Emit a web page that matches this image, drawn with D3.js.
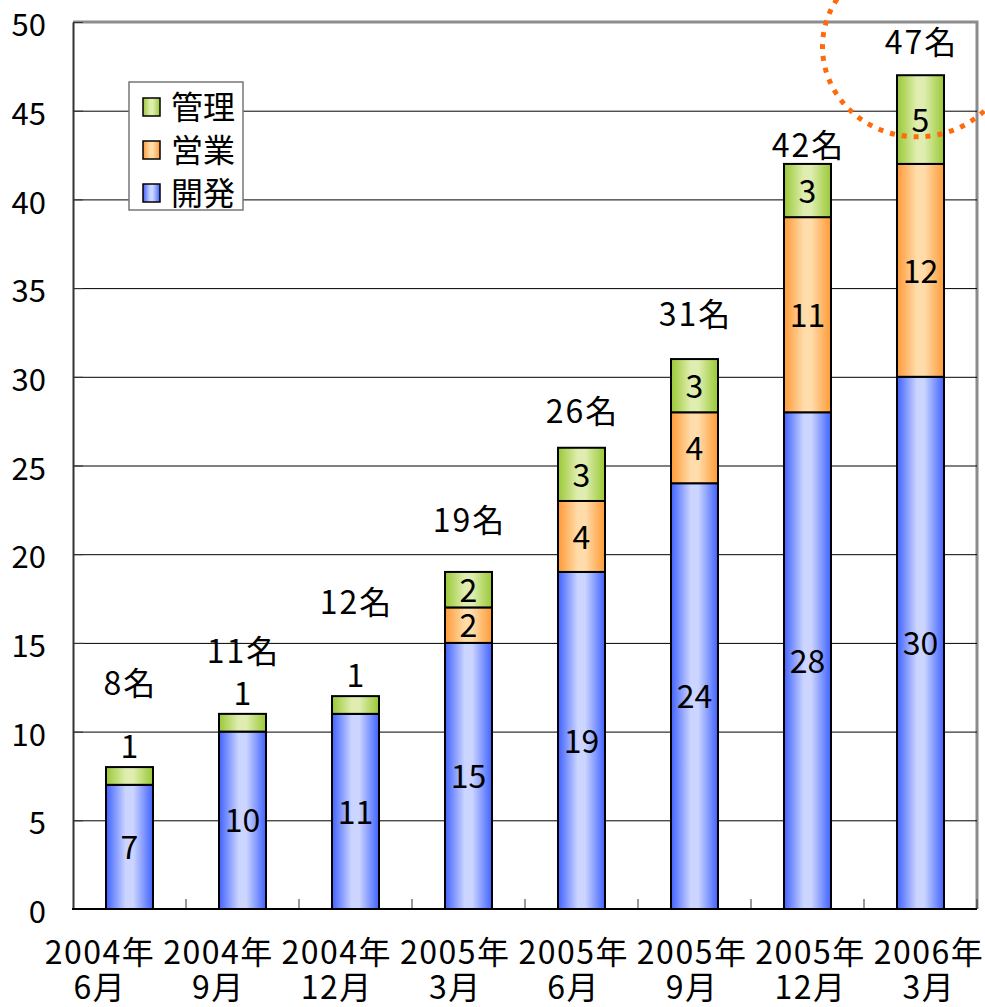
<!DOCTYPE html>
<html>
<head>
<meta charset="utf-8">
<script src="https://cdn.jsdelivr.net/npm/d3@7"></script>
<style>
  html, body { margin: 0; padding: 0; background: #fff; }
  svg { display: block; }
  text { font-family: "Noto Sans CJK JP", "Noto Sans", sans-serif; fill: #000; }
</style>
</head>
<body>
<svg id="chart" width="985" height="1007"></svg>
<script>
// Headcount by period, stacked by department
const periodYears  = ["2004年", "2004年", "2004年", "2005年", "2005年", "2005年", "2005年", "2006年"];
const periodMonths = ["6月", "9月", "12月", "3月", "6月", "9月", "12月", "3月"];
const devCounts    = [7, 10, 11, 15, 19, 24, 28, 30];   // 開発
const salesCounts  = [0, 0, 0, 2, 4, 4, 11, 12];        // 営業
const adminCounts  = [1, 1, 1, 2, 3, 3, 3, 5];          // 管理
const yTicks       = [0, 5, 10, 15, 20, 25, 30, 35, 40, 45, 50];
const seriesNames  = ["開発", "営業", "管理"];

const svg = d3.select("#chart");
const plot = { left: 73, right: 977, top: 22, bottom: 909 };

const periods = periodYears.map((y, i) => y + periodMonths[i]);
const rows = periods.map((p, i) => ({
  period: p, year: periodYears[i], month: periodMonths[i],
  開発: devCounts[i], 営業: salesCounts[i], 管理: adminCounts[i]
}));
const totals = rows.map(r => r.開発 + r.営業 + r.管理);

const x = d3.scaleBand().domain(periods)
  .range([plot.left, plot.right]).paddingInner(0.584).paddingOuter(0.292);
const y = d3.scaleLinear().domain([0, 50]).range([plot.bottom, plot.top]);
// Category labels are spread a little wider than the bars so they don't collide
const xLabel = d3.scalePoint().domain(periods).range([99, 928]);

// Gradient fills: saturated edges, pale centre
const colours = {
  開発: { edge: "#4062ff", mid: "#cbd5ff" },
  営業: { edge: "#ff9a36", mid: "#ffdcaa" },
  管理: { edge: "#99c834", mid: "#dfeeb0" }
};
const defs = svg.append("defs");
seriesNames.forEach((name, i) => {
  const g = defs.append("linearGradient").attr("id", "grad" + i)
    .attr("x1", "0%").attr("x2", "100%").attr("y1", "0%").attr("y2", "0%");
  g.append("stop").attr("offset", "0%").attr("stop-color", colours[name].edge);
  g.append("stop").attr("offset", "42%").attr("stop-color", colours[name].mid);
  g.append("stop").attr("offset", "58%").attr("stop-color", colours[name].mid);
  g.append("stop").attr("offset", "100%").attr("stop-color", colours[name].edge);
});

// Plot frame (grey top/right)
svg.append("path")
  .attr("d", `M${plot.left},${plot.top}H${plot.right}V${plot.bottom}`)
  .attr("fill", "none").attr("stroke", "#8c8c8c").attr("stroke-width", 3);

// Horizontal gridlines
svg.append("g").selectAll("line").data(yTicks.filter(t => t > 0 && t < 50)).join("line")
  .attr("x1", plot.left).attr("x2", plot.right)
  .attr("y1", d => y(d) + 0.5).attr("y2", d => y(d) + 0.5)
  .attr("stroke", "#000").attr("stroke-width", 1);

// Y axis with inward ticks
const yAxis = svg.append("g").attr("transform", `translate(${plot.left},0)`)
  .call(d3.axisLeft(y).tickValues(yTicks).tickSizeInner(-10).tickSizeOuter(0).tickPadding(27));
yAxis.select(".domain").attr("stroke", "#333").attr("stroke-width", 2);
yAxis.selectAll(".tick line").attr("stroke", "#333").attr("stroke-width", 1);
yAxis.selectAll(".tick text")
  .style("font-size", "31px").attr("dy", "0.44em").attr("fill", "#000");

// X axis: baseline with inward ticks at category boundaries
const boundaries = d3.range(periods.length + 1).map(i => plot.left + i * x.step());
svg.append("g").selectAll("line").data(boundaries.slice(1)).join("line")
  .attr("x1", d => d).attr("x2", d => d)
  .attr("y1", plot.bottom).attr("y2", plot.bottom - 10)
  .attr("stroke", "#333").attr("stroke-width", 1);
svg.append("line")
  .attr("x1", plot.left - 1).attr("x2", plot.right)
  .attr("y1", plot.bottom).attr("y2", plot.bottom)
  .attr("stroke", "#000").attr("stroke-width", 2);

// Category labels (two lines)
const xl = svg.append("g").selectAll("text").data(rows).join("text")
  .attr("text-anchor", "middle")
  .style("font-size", "32px").style("letter-spacing", "1.5px");
xl.append("tspan").attr("x", d => xLabel(d.period) + 1).attr("y", 964).text(d => d.year);
xl.append("tspan").attr("x", d => xLabel(d.period) + 1).attr("y", 999).text(d => d.month);

// Stacked bars
const stack = d3.stack().keys(seriesNames)(rows);
const layers = svg.append("g").selectAll("g").data(stack).join("g")
  .attr("fill", (d, i) => `url(#grad${i})`);
layers.selectAll("rect").data(d => d.filter(s => s[1] > s[0])).join("rect")
  .attr("x", d => x(d.data.period))
  .attr("width", x.bandwidth())
  .attr("y", d => y(d[1]))
  .attr("height", d => y(d[0]) - y(d[1]))
  .attr("stroke", "#000").attr("stroke-width", 2);

// Segment value labels: inside when tall enough, otherwise above the bar
const segLabels = [];
stack.forEach(layer => layer.forEach(s => {
  const v = s[1] - s[0];
  if (v <= 0) return;
  const h = y(s[0]) - y(s[1]);
  const cx = x(s.data.period) + x.bandwidth() / 2;
  if (h >= 30) segLabels.push({ v, cx, cy: (y(s[0]) + y(s[1])) / 2 });
  else segLabels.push({ v, cx, cy: y(s[1]) - 21 });
}));
svg.append("g").selectAll("text").data(segLabels).join("text")
  .attr("x", d => d.cx).attr("y", d => d.cy).attr("dy", "0.38em")
  .attr("text-anchor", "middle").style("font-size", "32px")
  .text(d => d.v);

// Total headcount labels above each bar
const totalLift = [84, 63, 94, 52, 37, 45, 19, 33];
svg.append("g").selectAll("text").data(rows).join("text")
  .attr("x", d => x(d.period) + x.bandwidth() / 2 + 1)
  .attr("y", (d, i) => y(totals[i]) - totalLift[i])
  .attr("dy", "0.38em").attr("text-anchor", "middle")
  .style("font-size", "32px").style("letter-spacing", "2px")
  .text((d, i) => totals[i] + "名");

// Legend
const legend = svg.append("g").attr("transform", "translate(129,82)");
legend.append("rect").attr("width", 114).attr("height", 128)
  .attr("fill", "#fff").attr("stroke", "#777").attr("stroke-width", 1.5);
const legendOrder = ["管理", "営業", "開発"];
const li = legend.selectAll("g").data(legendOrder).join("g")
  .attr("transform", (d, i) => `translate(14,${25 + i * 43})`);
li.append("rect").attr("x", 0).attr("y", -9).attr("width", 17).attr("height", 18)
  .attr("fill", d => `url(#grad${seriesNames.indexOf(d)})`)
  .attr("stroke", "#000").attr("stroke-width", 1.5);
li.append("text").attr("x", 28).attr("y", 0).attr("dy", "0.36em")
  .style("font-size", "32px").text(d => d);

// Dotted highlight around the latest total
const last = periods[periods.length - 1];
svg.append("ellipse")
  .attr("cx", x(last) + x.bandwidth() / 2 - 3)
  .attr("cy", y(totals[totals.length - 1] + 1.6))
  .attr("rx", 95).attr("ry", 90)
  .attr("fill", "none").attr("stroke", "#ff6a0d").attr("stroke-width", 5)
  .attr("stroke-dasharray", "5 7");
</script>
</body>
</html>
